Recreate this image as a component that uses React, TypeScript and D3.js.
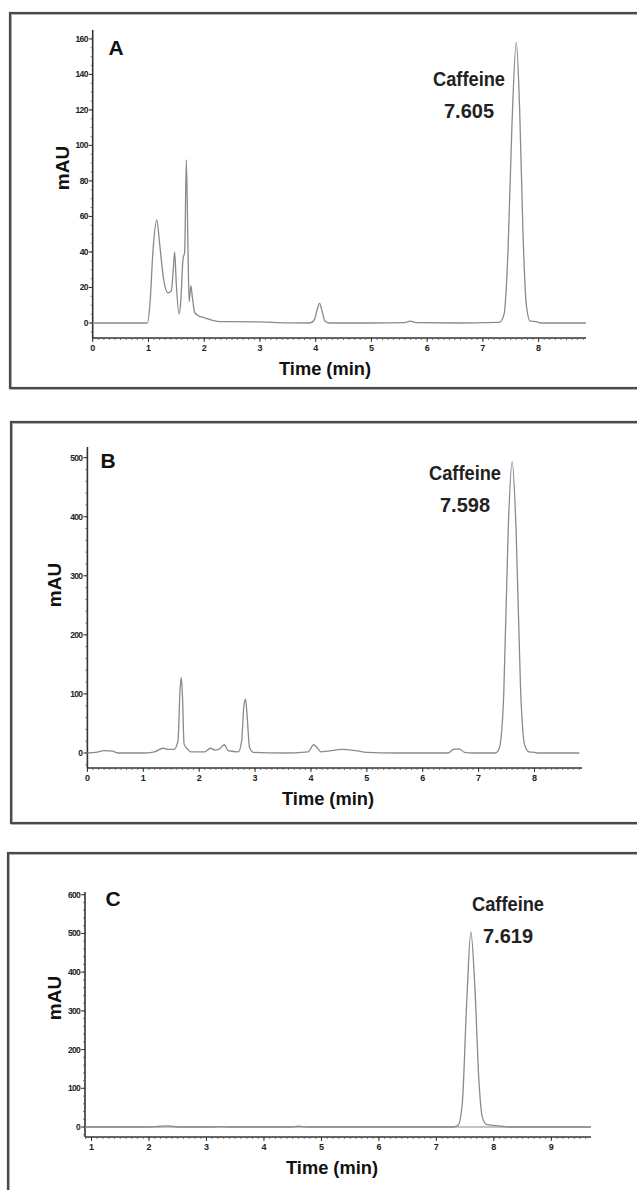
import React from "react";
import * as d3 from "d3";

// chromatogram traces: [time (min), mAU]
const traceA: [number, number][] = [
  [0, 0], [0.98, 0], [1.03, 12], [1.08, 40], [1.15, 58], [1.2, 45], [1.27, 25],
  [1.35, 17], [1.41, 18], [1.45, 32], [1.47, 40], [1.5, 22], [1.55, 5], [1.58, 12],
  [1.62, 36], [1.65, 40], [1.68, 92], [1.71, 40], [1.73, 12], [1.76, 21], [1.79, 14],
  [1.83, 6], [1.9, 4], [2.0, 3], [2.15, 1.5], [2.3, 0.8], [2.5, 0.8], [3.0, 0.6],
  [3.5, 0.1], [3.9, 0], [3.98, 2], [4.03, 8], [4.07, 11], [4.12, 6], [4.17, 1],
  [4.25, 0], [5.0, 0], [5.6, 0.2], [5.7, 1], [5.8, 0.2], [6.6, 0], [7.0, 0.2],
  [7.3, 0.5], [7.38, 5], [7.45, 40], [7.52, 110], [7.6, 158], [7.66, 120],
  [7.72, 50], [7.78, 10], [7.85, 1], [7.95, 0.8], [8.05, 0], [8.85, 0],
];

const traceB: [number, number][] = [
  [0, 0], [0.15, 1], [0.3, 4], [0.45, 3], [0.55, 0], [1.0, 0], [1.2, 2], [1.35, 8],
  [1.45, 6], [1.55, 6], [1.62, 20], [1.66, 110], [1.68, 128], [1.7, 100], [1.73, 15],
  [1.78, 8], [1.85, 2], [2.1, 2], [2.2, 8], [2.28, 5], [2.35, 6], [2.45, 14],
  [2.52, 4], [2.7, 2], [2.76, 20], [2.8, 80], [2.83, 91], [2.86, 60], [2.9, 10],
  [2.97, 1], [3.5, 0], [3.95, 2], [4.05, 14], [4.1, 10], [4.18, 2], [4.3, 3],
  [4.55, 6], [4.8, 4], [5.0, 1], [5.5, 0], [6.45, 0], [6.55, 6], [6.65, 7],
  [6.75, 1], [6.9, 0], [7.3, 0], [7.37, 8], [7.45, 100], [7.53, 380], [7.6, 493],
  [7.67, 380], [7.75, 110], [7.82, 15], [7.9, 2], [8.0, 1], [8.05, 0], [8.8, 0],
];

const traceC: [number, number][] = [
  [0.89, 0], [2.0, 0], [2.2, 2], [2.35, 3], [2.5, 0], [3.1, 0], [3.25, 1], [3.4, 0],
  [4.5, 0], [4.6, 2], [4.75, 0], [7.3, 0], [7.38, 5], [7.45, 60], [7.53, 330],
  [7.6, 504], [7.67, 360], [7.74, 120], [7.8, 25], [7.88, 6], [8.0, 4], [8.15, 2],
  [8.25, 0], [9.69, 0],
];

const ticksYA = [0, 20, 40, 60, 80, 100, 120, 140, 160];
const ticksYB = [0, 100, 200, 300, 400, 500];
const ticksYC = [0, 100, 200, 300, 400, 500, 600];
const ticksXA = [0, 1, 2, 3, 4, 5, 6, 7, 8];
const ticksXB = [0, 1, 2, 3, 4, 5, 6, 7, 8];
const ticksXC = [1, 2, 3, 4, 5, 6, 7, 8, 9];

const panelLetters = ["A", "B", "C"];
const peakName = "Caffeine";
const retentionTimes = ["7.605", "7.598", "7.619"];

const font = "'Liberation Sans', Arial, sans-serif";

type PanelProps = {
  trace: [number, number][];
  ticksX: number[];
  ticksY: number[];
  letter: string;
  rt: string;
  xDomain: [number, number];
  xRange: [number, number];
  yDomain: [number, number];
  yRange: [number, number];
  xMinor: number;
  yMinor: number;
  box: { x: number; y: number; h: number };
  letterPos: [number, number];
  labelPos: [number, number];
  mauY: number;
  mauX: number;
  timeX: number;
  baseline?: boolean;
};

const Panel = (p: PanelProps) => {
  const x = d3.scaleLinear().domain(p.xDomain).range(p.xRange);
  const y = d3.scaleLinear().domain(p.yDomain).range(p.yRange);
  const line = d3
    .line<[number, number]>()
    .x((d) => x(d[0]))
    .y((d) => y(d[1]))
    .curve(d3.curveMonotoneX);

  const [x0, x1] = p.xRange;
  const [yb, yt] = p.yRange;
  const minorX = d3.range(Math.ceil(p.xDomain[0] / p.xMinor) * p.xMinor, p.xDomain[1], p.xMinor);
  const minorY = d3.range(Math.ceil(p.yDomain[0] / p.yMinor) * p.yMinor, p.yDomain[1], p.yMinor);

  return (
    <g>
      <rect x={p.box.x + 1} y={p.box.y + 1} width={700} height={p.box.h} fill="none" stroke="#bbb" strokeWidth={2} />
      <rect x={p.box.x} y={p.box.y} width={700} height={p.box.h} fill="none" stroke="#4a4a4a" strokeWidth={2.2} />

      {/* axes */}
      <line x1={x0} x2={x1} y1={yb} y2={yb} stroke="#333" strokeWidth={1.6} />
      <line x1={x0} x2={x0} y1={yb} y2={yt} stroke="#333" strokeWidth={1.6} />
      {minorX.map((t, i) => (
        <line key={"mx" + i} x1={x(t)} x2={x(t)} y1={yb} y2={yb + 2} stroke="#555" strokeWidth={0.8} />
      ))}
      {minorY.map((t, i) => (
        <line key={"my" + i} x1={x0} x2={x0 - 2} y1={y(t)} y2={y(t)} stroke="#555" strokeWidth={0.8} />
      ))}
      {p.ticksX.map((t) => (
        <g key={"x" + t}>
          <line x1={x(t)} x2={x(t)} y1={yb} y2={yb + 4} stroke="#333" strokeWidth={1} />
          <text x={x(t)} y={yb + 13} fontSize={9} fontWeight="bold" textAnchor="middle" fontFamily={font} fill="#222">
            {t}
          </text>
        </g>
      ))}
      {p.ticksY.map((t) => (
        <g key={"y" + t}>
          <line x1={x0} x2={x0 - 4} y1={y(t)} y2={y(t)} stroke="#333" strokeWidth={1} />
          <text x={x0 - 5} y={y(t) + 3} fontSize={8.5} fontWeight="bold" textAnchor="end" fontFamily={font} fill="#222" letterSpacing={-0.7}>
            {t}
          </text>
        </g>
      ))}

      {p.baseline && <line x1={x0} x2={x1} y1={y(0)} y2={y(0)} stroke="#8a8a8a" strokeWidth={1.2} />}
      <path d={line(p.trace) ?? ""} fill="none" stroke="#8a8a8a" strokeWidth={1.3} />

      <text x={p.letterPos[0]} y={p.letterPos[1] + 7.5} fontSize={21} fontWeight="bold" textAnchor="middle" fontFamily={font} fill="#111">
        {p.letter}
      </text>
      <text
        x={p.labelPos[0] - 36}
        y={p.labelPos[1] + 7}
        fontSize={20}
        fontWeight="bold"
        fontFamily={font}
        fill="#222"
        textLength={72}
        lengthAdjust="spacingAndGlyphs"
      >
        {peakName}
      </text>
      <text
        x={p.labelPos[0] - 25}
        y={p.labelPos[1] + 39}
        fontSize={20}
        fontWeight="bold"
        fontFamily={font}
        fill="#222"
        textLength={50}
        lengthAdjust="spacingAndGlyphs"
      >
        {p.rt}
      </text>
      <text
        transform={`translate(${p.mauX},${p.mauY}) rotate(-90)`}
        fontSize={19}
        fontWeight="bold"
        textAnchor="middle"
        fontFamily={font}
        fill="#111"
      >
        mAU
      </text>
      <text
        x={p.timeX - 46}
        y={yb + 37}
        fontSize={19}
        fontWeight="bold"
        fontFamily={font}
        fill="#111"
        textLength={92}
        lengthAdjust="spacingAndGlyphs"
      >
        Time (min)
      </text>
    </g>
  );
};

export default function App() {
  return (
    <div style={{ position: "absolute", left: 0, top: 0 }}>
      <svg width={637} height={1190} viewBox="0 0 637 1190" style={{ display: "block", background: "#fff" }}>
        <Panel
          trace={traceA}
          ticksX={ticksXA}
          ticksY={ticksYA}
          letter={panelLetters[0]}
          rt={retentionTimes[0]}
          xDomain={[0, 8.85]}
          xRange={[92.7, 586]}
          yDomain={[-8.45, 165]}
          yRange={[338, 30]}
          xMinor={0.1}
          yMinor={5}
          box={{ x: 10, y: 13, h: 375 }}
          letterPos={[116, 47]}
          labelPos={[469, 79]}
          mauX={69}
          mauY={168}
          timeX={325}
        />
        <Panel
          trace={traceB}
          ticksX={ticksXB}
          ticksY={ticksYB}
          letter={panelLetters[1]}
          rt={retentionTimes[1]}
          xDomain={[0, 8.85]}
          xRange={[87.4, 582]}
          yDomain={[-25.4, 518]}
          yRange={[768, 447]}
          xMinor={0.1}
          yMinor={20}
          box={{ x: 11, y: 422, h: 401 }}
          letterPos={[108, 460]}
          labelPos={[465, 473]}
          mauX={61}
          mauY={585}
          timeX={328}
        />
        <Panel
          trace={traceC}
          ticksX={ticksXC}
          ticksY={ticksYC}
          letter={panelLetters[2]}
          rt={retentionTimes[2]}
          xDomain={[0.887, 9.69]}
          xRange={[85, 591]}
          yDomain={[-25.8, 607]}
          yRange={[1137, 892]}
          xMinor={0.1}
          yMinor={20}
          box={{ x: 8, y: 853, h: 400 }}
          letterPos={[113, 898]}
          labelPos={[508, 904]}
          mauX={61}
          mauY={998}
          timeX={332}
          baseline
        />
      </svg>
    </div>
  );
}
